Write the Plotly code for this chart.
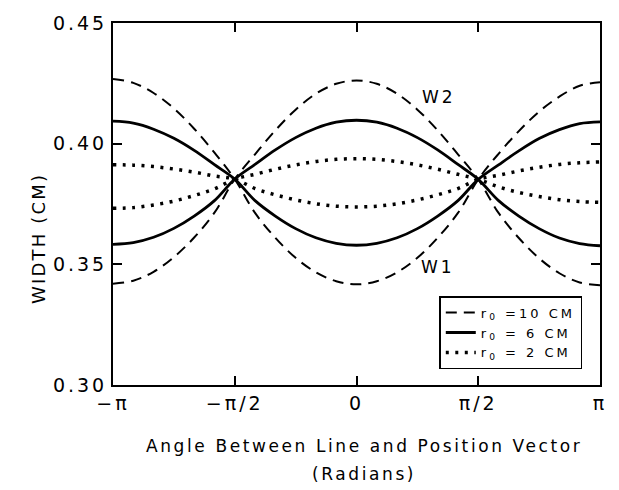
import math
import plotly.graph_objects as go

# Angle samples (radians), -pi .. pi in steps of pi/12
THETA = [-3.1416, -2.8798, -2.6180, -2.3562, -2.0944, -1.8326, -1.5708,
         -1.3090, -1.0472, -0.7854, -0.5236, -0.2618, 0.0,
         0.2618, 0.5236, 0.7854, 1.0472, 1.3090, 1.5708,
         1.8326, 2.0944, 2.3562, 2.6180, 2.8798, 3.1416]

# r0 = 10 CM (dashed)
DASH_W2 = [0.3420, 0.3432, 0.3469, 0.3530, 0.3611, 0.3714, 0.3853,
           0.3956, 0.4055, 0.4141, 0.4207, 0.4248, 0.4262,
           0.4248, 0.4207, 0.4141, 0.4055, 0.3956, 0.3852,
           0.3713, 0.3609, 0.3525, 0.3463, 0.3425, 0.3413]
DASH_W1 = [0.4268, 0.4252, 0.4210, 0.4146, 0.4062, 0.3963, 0.3853,
           0.3713, 0.3610, 0.3527, 0.3467, 0.3430, 0.3417,
           0.3430, 0.3467, 0.3527, 0.3610, 0.3713, 0.3852,
           0.3958, 0.4052, 0.4133, 0.4195, 0.4240, 0.4255]

# r0 = 6 CM (solid)
SOLID_W2 = [0.3583, 0.3590, 0.3612, 0.3649, 0.3700, 0.3764, 0.3853,
            0.3914, 0.3974, 0.4025, 0.4064, 0.4089, 0.4097,
            0.4089, 0.4064, 0.4025, 0.3974, 0.3914, 0.3852,
            0.3764, 0.3700, 0.3648, 0.3609, 0.3586, 0.3577]
SOLID_W1 = [0.4093, 0.4085, 0.4060, 0.4022, 0.3972, 0.3913, 0.3853,
            0.3764, 0.3700, 0.3648, 0.3610, 0.3587, 0.3579,
            0.3587, 0.3610, 0.3648, 0.3700, 0.3764, 0.3852,
            0.3912, 0.3970, 0.4021, 0.4058, 0.4083, 0.4090]

# r0 = 2 CM (dotted)
DOT_W2 = [0.3732, 0.3735, 0.3746, 0.3762, 0.3785, 0.3813, 0.3853,
          0.3873, 0.3894, 0.3912, 0.3926, 0.3935, 0.3938,
          0.3935, 0.3926, 0.3912, 0.3894, 0.3873, 0.3852,
          0.3821, 0.3798, 0.3781, 0.3768, 0.3760, 0.3757]
DOT_W1 = [0.3913, 0.3911, 0.3905, 0.3895, 0.3882, 0.3866, 0.3853,
          0.3814, 0.3788, 0.3767, 0.3751, 0.3741, 0.3738,
          0.3741, 0.3751, 0.3767, 0.3788, 0.3814, 0.3852,
          0.3869, 0.3887, 0.3902, 0.3914, 0.3921, 0.3924]

LEGEND_NAMES = ["r<sub>0</sub> =10 CM", "r<sub>0</sub> = 6 CM", "r<sub>0</sub> = 2 CM"]

X_TICKS = [-math.pi, -math.pi / 2, 0, math.pi / 2, math.pi]
X_TICK_TEXT = ["\u2212\u03c0", "\u2212\u03c0/2", "0", "\u03c0/2", "\u03c0"]
Y_TICKS = [0.30, 0.35, 0.40, 0.45]
Y_TICK_TEXT = ["0.30", "0.35", "0.40", "0.45"]

FONT = "DejaVu Sans"


def spaced(text, px):
    return '<span style="letter-spacing:%spx">%s</span>' % (px, text)


fig = go.Figure()

styles = [
    (DASH_W2, DASH_W1, LEGEND_NAMES[0], dict(color="black", width=2, dash="11px,7px")),
    (SOLID_W2, SOLID_W1, LEGEND_NAMES[1], dict(color="black", width=2.8)),
    (DOT_W2, DOT_W1, LEGEND_NAMES[2], dict(color="black", width=3.5, dash="3px,6.5px")),
]
for i, (w2, w1, name, line) in enumerate(styles):
    fig.add_trace(go.Scatter(x=THETA, y=w2, mode="lines", name=spaced(name, 3),
                             line=dict(shape="spline", smoothing=1, **line),
                             showlegend=True, legendgroup=str(i)))
    fig.add_trace(go.Scatter(x=THETA, y=w1, mode="lines", name=spaced(name, 3),
                             line=dict(shape="spline", smoothing=1, **line),
                             showlegend=False, legendgroup=str(i)))

fig.update_xaxes(range=[-math.pi, math.pi], tickvals=X_TICKS,
                 ticktext=[spaced(t, 3) for t in X_TICK_TEXT],
                 ticks="inside", ticklen=9, tickwidth=1.5, tickcolor="black",
                 showline=True, linewidth=2, linecolor="black", mirror="ticks",
                 showgrid=False, zeroline=False,
                 tickfont=dict(family=FONT, size=19, color="black"))
fig.update_yaxes(range=[0.30, 0.45], tickvals=Y_TICKS,
                 ticktext=[spaced(t, 3) for t in Y_TICK_TEXT],
                 ticks="inside", ticklen=9, tickwidth=1.5, tickcolor="black",
                 showline=True, linewidth=2, linecolor="black", mirror="ticks",
                 showgrid=False, zeroline=False,
                 tickfont=dict(family=FONT, size=19, color="black"))

fig.add_annotation(x=1.062, y=0.4194, text=spaced("W2", 3), showarrow=False,
                   font=dict(family=FONT, size=17, color="black"))
fig.add_annotation(x=1.049, y=0.3487, text=spaced("W1", 3), showarrow=False,
                   font=dict(family=FONT, size=17, color="black"))
fig.add_annotation(xref="paper", yref="paper", x=-0.179, y=0.404,
                   text=spaced("WIDTH (CM)", 2.2),
                   textangle=-90, showarrow=False,
                   font=dict(family=FONT, size=18, color="black"))
fig.add_annotation(xref="paper", yref="paper", x=0.515, y=-0.168, yanchor="middle",
                   text=spaced("Angle Between Line and Position Vector", 2.6),
                   showarrow=False,
                   font=dict(family=FONT, size=17, color="black"))
fig.add_annotation(xref="paper", yref="paper", x=0.515, y=-0.247, yanchor="middle",
                   text=spaced("(Radians)", 2.6), showarrow=False,
                   font=dict(family=FONT, size=17, color="black"))

fig.update_layout(
    width=619, height=490,
    margin=dict(l=113, r=16, t=18, b=105),
    paper_bgcolor="white", plot_bgcolor="white",
    legend=dict(x=0.67, y=0.2455, xanchor="left", yanchor="top",
                bordercolor="black", borderwidth=1.5, bgcolor="white",
                font=dict(family=FONT, size=13, color="black"),
                tracegroupgap=0, itemwidth=30),
)

fig.write_html("out.html")
